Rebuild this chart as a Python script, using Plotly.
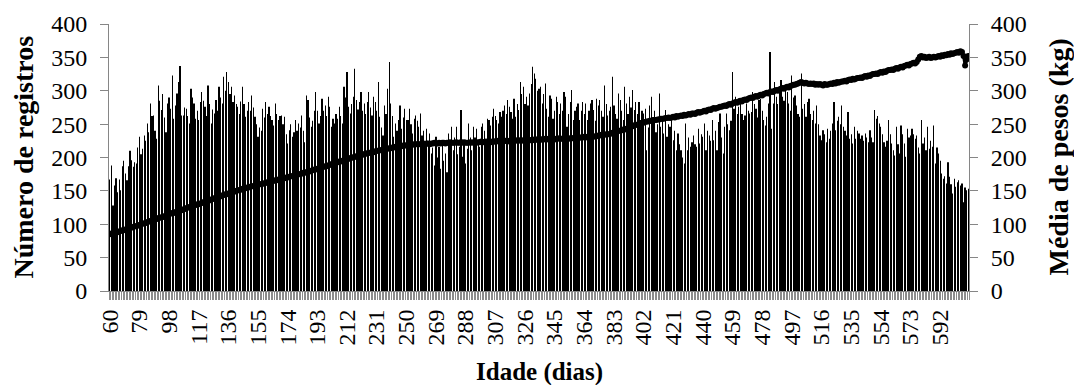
import plotly.graph_objects as go

# Age in days: 60 .. 610
first_day = 60

# Number of records per age (left axis)
counts = [
    # 60-76
    167, 188, 128, 158, 169, 148, 167, 151, 187, 195, 176, 166, 187, 210, 196, 186, 193,
    # 77-99
    191, 215, 231, 205, 213, 233, 225, 251, 238, 281, 262, 263, 240, 228, 308, 285, 271, 295, 260, 238, 281, 290, 273,
    # 100-139
    323, 258, 278, 296, 313, 337, 263, 263, 275, 273, 262, 251, 303, 290, 281, 258, 270, 256, 283, 298,
    285, 276, 262, 308, 280, 251, 272, 266, 286, 270, 306, 290, 281, 321, 300, 328, 313, 295, 306, 283,
    # 140-199
    293, 280, 276, 265, 284, 306, 280, 261, 270, 283, 270, 293, 275, 261, 250, 231, 245, 240, 273, 260,
    283, 265, 276, 262, 256, 248, 281, 265, 256, 262, 263, 250, 261, 235, 221, 241, 250, 231, 238, 256,
    240, 251, 245, 263, 240, 223, 293, 286, 260, 246, 255, 270, 298, 270, 251, 262, 288, 270, 278, 262,
    # 200-339
    291, 276, 246, 258, 251, 265, 258, 276, 262, 251, 306, 290, 328, 276, 266, 280, 291, 333, 286, 272,
    283, 298, 270, 281, 265, 283, 298, 275, 263, 291, 283, 270, 313, 261, 245, 233, 278, 265, 303, 343,
    281, 262, 231, 251, 240, 256, 278, 243, 260, 273, 256, 256, 273, 250, 236, 258, 263, 255, 246, 266,
    233, 240, 216, 243, 222, 236, 206, 215, 188, 231, 200, 216, 183, 226, 195, 206, 178, 236, 220, 246,
    211, 230, 246, 205, 216, 271, 201, 225, 191, 213, 251, 230, 211, 246, 230, 243, 220, 216, 246, 251,
    240, 226, 258, 256, 248, 261, 273, 262, 256, 251, 268, 261, 270, 278, 265, 286, 276, 268, 258, 288,
    261, 280, 271, 313, 295, 306, 280, 291, 278, 296, 310, 336, 326, 318, 300, 303, 306, 281, 295, 311,
    # 340-479
    273, 261, 293, 288, 258, 270, 291, 283, 265, 281, 270, 298, 291, 246, 265, 283, 301, 256, 270, 276,
    281, 256, 270, 283, 265, 281, 256, 270, 281, 286, 271, 255, 288, 278, 286, 270, 261, 308, 280, 263,
    270, 276, 321, 278, 265, 258, 296, 286, 270, 256, 306, 281, 265, 291, 275, 301, 271, 283, 265, 283,
    256, 270, 266, 273, 211, 245, 278, 291, 256, 270, 238, 250, 296, 246, 260, 236, 271, 231, 250, 246,
    263, 226, 240, 211, 236, 220, 211, 200, 191, 251, 211, 230, 216, 223, 233, 220, 216, 243, 221, 235,
    231, 251, 211, 240, 233, 225, 256, 226, 240, 211, 253, 266, 230, 206, 246, 266, 250, 241, 255, 328,
    273, 291, 265, 276, 286, 265, 256, 263, 281, 270, 266, 268, 298, 280, 273, 260, 286, 288, 270, 256,
    # 480-610
    248, 261, 281, 358, 243, 281, 313, 291, 280, 306, 316, 291, 285, 301, 298, 281, 270, 323, 290, 293,
    278, 265, 261, 326, 273, 280, 261, 283, 288, 265, 256, 270, 251, 278, 250, 233, 226, 241, 235, 223,
    243, 228, 240, 251, 283, 241, 255, 261, 250, 278, 246, 240, 233, 268, 228, 235, 221, 246, 228, 240,
    236, 228, 233, 225, 236, 230, 223, 241, 230, 223, 271, 258, 262, 251, 246, 235, 223, 216, 225, 256,
    235, 221, 211, 203, 246, 220, 206, 248, 235, 221, 201, 243, 230, 233, 243, 235, 228, 233, 215, 206,
    256, 221, 230, 211, 246, 213, 225, 216, 248, 191, 215, 206, 195, 176, 168, 172, 161, 193, 171, 160,
    146, 168, 156, 163, 166, 158, 161, 133, 155, 151, 153,
]

# Mean weight (kg) per age (right axis)
weights = [
    85, 86, 86, 87, 88, 88, 89, 90, 91, 91,
    92, 93, 94, 94, 95, 96, 97, 97, 98, 99,
    100, 101, 101, 102, 103, 104, 105, 105, 106, 107,
    108, 109, 110, 110, 111, 112, 113, 114, 115, 116,
    117, 117, 118, 119, 120, 121, 121, 122, 123, 124,
    125, 126, 126, 127, 128, 129, 130, 130, 131, 132,
    133, 134, 135, 135, 136, 137, 138, 139, 140, 140,
    141, 142, 143, 144, 145, 145, 146, 147, 148, 148,
    149, 150, 151, 151, 152, 153, 153, 154, 155, 155,
    156, 157, 157, 158, 158, 159, 160, 160, 161, 161,
    162, 163, 163, 164, 164, 165, 166, 166, 167, 167,
    168, 169, 169, 170, 170, 171, 172, 172, 173, 173,
    174, 175, 175, 176, 177, 177, 178, 179, 179, 180,
    181, 182, 182, 183, 184, 185, 185, 186, 187, 187,
    188, 189, 190, 191, 191, 192, 193, 194, 194, 195,
    196, 197, 197, 198, 199, 200, 200, 201, 202, 202,
    203, 204, 204, 205, 206, 206, 207, 207, 208, 208,
    209, 210, 210, 211, 211, 212, 212, 213, 213, 214,
    214, 215, 215, 216, 216, 216, 217, 217, 218, 218,
    218, 219, 219, 219, 219, 220, 220, 220, 220, 220,
    220, 221, 220, 221, 221, 220, 221, 221, 222, 221,
    221, 222, 221, 222, 222, 221, 222, 222, 223, 222,
    222, 222, 223, 222, 222, 223, 222, 223, 222, 222,
    222, 223, 222, 223, 223, 222, 223, 223, 224, 223,
    223, 224, 223, 224, 224, 223, 224, 224, 225, 224,
    224, 225, 224, 225, 225, 224, 225, 225, 226, 225,
    225, 226, 225, 226, 226, 225, 226, 226, 227, 226,
    226, 227, 226, 227, 227, 226, 227, 227, 228, 227,
    227, 228, 227, 228, 228, 227, 228, 228, 229, 228,
    228, 229, 228, 229, 229, 228, 229, 229, 230, 229,
    229, 230, 230, 230, 231, 230, 231, 231, 232, 231,
    231, 232, 232, 233, 233, 234, 234, 235, 234, 235,
    235, 236, 237, 237, 238, 239, 240, 240, 241, 242,
    242, 243, 244, 245, 246, 247, 248, 249, 249, 250,
    251, 252, 252, 253, 254, 254, 255, 255, 256, 256,
    256, 257, 257, 258, 258, 258, 259, 259, 260, 259,
    260, 261, 260, 262, 261, 262, 263, 262, 264, 263,
    264, 265, 264, 266, 266, 265, 267, 268, 267, 268,
    269, 270, 269, 271, 272, 271, 273, 274, 273, 274,
    275, 276, 276, 277, 278, 277, 279, 280, 279, 281,
    282, 283, 282, 284, 285, 284, 286, 287, 286, 288,
    289, 290, 289, 291, 292, 291, 293, 294, 293, 295,
    296, 297, 296, 298, 299, 298, 300, 301, 300, 302,
    303, 304, 303, 305, 306, 305, 307, 308, 309, 309,
    310, 311, 312, 313, 312, 311, 312, 311, 310, 311,
    310, 311, 309, 310, 309, 310, 309, 308, 310, 309,
    309, 310, 311, 310, 312, 311, 313, 312, 313, 314,
    314, 315, 314, 316, 317, 316, 318, 317, 318, 319,
    319, 320, 319, 321, 322, 321, 323, 322, 324, 325,
    325, 326, 325, 327, 328, 327, 329, 328, 330, 331,
    331, 332, 331, 333, 334, 333, 335, 336, 335, 337,
    338, 339, 338, 340, 341, 342, 341, 343, 347, 351,
    352, 350, 351, 349, 350, 351, 349, 350, 351, 350,
    351, 352, 351, 353, 352, 354, 353, 355, 354, 356,
    355, 356, 357, 358, 357, 359, 358, 352, 338, 347,
    352,
]

days = list(range(first_day, first_day + len(counts)))
assert len(counts) == 551, len(counts)
assert len(weights) == 551, len(weights)

y_ticks = [0, 50, 100, 150, 200, 250, 300, 350, 400]
x_tick_step = 19

FONT = "Liberation Serif, Times New Roman, serif"
AXIS_GRAY = "#868686"

fig = go.Figure()
fig.add_trace(go.Bar(
    x=days, y=counts, name="Número de registros",
    marker=dict(color="#000000", line=dict(width=0)),
    yaxis="y",
))
fig.add_trace(go.Scatter(
    x=days, y=weights, name="Média de pesos (kg)",
    mode="lines+markers",
    line=dict(color="#000000", width=3),
    marker=dict(color="#000000", size=6, symbol="circle"),
    yaxis="y2",
))

fig.update_layout(
    width=1074, height=385,
    margin=dict(l=109, r=105, t=24, b=94),
    paper_bgcolor="white", plot_bgcolor="white",
    showlegend=False,
    bargap=0.85,
    font=dict(family=FONT, size=24, color="#000000"),
    xaxis=dict(
        range=[first_day - 0.5, days[-1] + 0.5],
        tickmode="linear", tick0=first_day, dtick=x_tick_step,
        tickangle=-90,
        ticks="", showline=True, linecolor=AXIS_GRAY, linewidth=1,
        minor=dict(ticks="outside", tickmode="linear", tick0=first_day - 0.5, dtick=1,
                   ticklen=8, tickcolor="#8c8c8c", tickwidth=1),
        showgrid=False, zeroline=False,
        tickfont=dict(family=FONT, size=24),
        ticklabelstandoff=8,
    ),
    yaxis=dict(
        range=[0, 400], tickmode="array", tickvals=y_ticks,
        ticks="outside", ticklen=8, tickcolor=AXIS_GRAY,
        showline=True, linecolor=AXIS_GRAY, linewidth=1,
        showgrid=False, zeroline=False,
        tickfont=dict(family=FONT, size=24),
        ticklabelstandoff=8,
    ),
    yaxis2=dict(
        range=[0, 400], tickmode="array", tickvals=y_ticks,
        overlaying="y", side="right",
        ticks="outside", ticklen=8, tickcolor=AXIS_GRAY,
        showline=True, linecolor=AXIS_GRAY, linewidth=1,
        showgrid=False, zeroline=False,
        tickfont=dict(family=FONT, size=24),
        ticklabelstandoff=8,
    ),
    annotations=[
        dict(text="<b>Número de registros</b>", xref="paper", yref="paper",
             x=(23 - 109) / 860, y=0.5, xanchor="center", yanchor="middle",
             textangle=-90, showarrow=False, font=dict(family=FONT, size=28)),
        dict(text="<b>Média de pesos (kg)</b>", xref="paper", yref="paper",
             x=(1058 - 109) / 860, y=0.5, xanchor="center", yanchor="middle",
             textangle=-90, showarrow=False, font=dict(family=FONT, size=28)),
        dict(text="<b>Idade (dias)</b>", xref="paper", yref="paper",
             x=0.5, y=-(372 - 291) / 267, xanchor="center", yanchor="middle",
             showarrow=False, font=dict(family=FONT, size=25)),
    ],
)

fig.write_html("out.html")
